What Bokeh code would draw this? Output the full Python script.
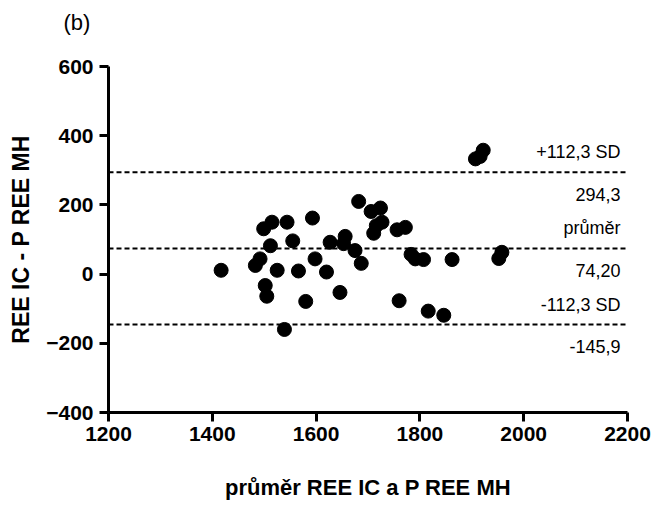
from bokeh.plotting import figure
from bokeh.models import Range1d, FixedTicker, ColumnDataSource
from bokeh.embed import file_html
from bokeh.resources import INLINE
from bokeh.core.properties import value

# Bland-Altman data: mean of the two methods (x) and their difference (y)
mean_x = [1417, 1483, 1492, 1502, 1505, 1499, 1515, 1512, 1525, 1544, 1555,
          1539, 1566, 1580, 1593, 1598, 1620, 1627, 1646, 1653, 1656, 1675,
          1682, 1687, 1706, 1724, 1711, 1716, 1727, 1756, 1772, 1760, 1783,
          1791, 1807, 1816, 1846, 1862, 1907, 1916, 1922, 1952, 1958]
diff_y = [11, 25, 44, -33, -64, 131, 150, 82, 11, 150, 96,
          -160, 9, -79, 162, 44, 6, 92, -53, 88, 109, 68,
          210, 31, 181, 191, 118, 140, 150, 128, 135, -77, 57,
          44, 42, -107, -119, 42, 333, 340, 358, 45, 63]

x_ticks = [1200, 1400, 1600, 1800, 2000, 2200]
y_ticks = [-400, -200, 0, 200, 400, 600]

levels = [294.3, 74.20, -145.9]
labels_above = ["+112,3 SD", "průměr", "-112,3 SD"]
labels_below = ["294,3", "74,20", "-145,9"]
panel_tag = "(b)"

FONT = "Liberation Sans"

p = figure(width=655, height=505, output_backend="svg", toolbar_location=None,
           x_range=Range1d(x_ticks[0], x_ticks[-1]),
           y_range=Range1d(y_ticks[0], y_ticks[-1]),
           min_border_left=108, min_border_right=28,
           min_border_top=66, min_border_bottom=93,
           title=panel_tag + "\n ")

p.background_fill_color = "white"
p.border_fill_color = "white"
p.outline_line_color = None
p.xgrid.visible = False
p.ygrid.visible = False

p.title.text_font = FONT
p.title.text_font_style = "normal"
p.title.text_font_size = "22px"
p.title.text_line_height = 1.1
p.title.text_color = "black"
p.title.offset = -45
p.title.standoff = 8

p.xaxis.ticker = FixedTicker(ticks=x_ticks)
p.yaxis.ticker = FixedTicker(ticks=y_ticks)
for ax in (p.xaxis[0], p.yaxis[0]):
    ax.axis_line_width = 3
    ax.axis_line_color = "black"
    ax.major_tick_line_width = 3
    ax.major_tick_line_color = "black"
    ax.major_tick_out = 9
    ax.major_tick_in = 0
    ax.minor_tick_line_color = None
    ax.major_label_text_font = FONT
    ax.major_label_text_font_style = "bold"
    ax.major_label_text_font_size = "21px"
    ax.major_label_text_color = "black"
    ax.axis_label_text_font = FONT
    ax.axis_label_text_font_style = "bold"
    ax.axis_label_text_color = "black"

p.xaxis.axis_label = "průměr REE IC a P REE MH"
p.xaxis.axis_label_text_font_size = "22px"
p.xaxis.axis_label_standoff = 31
p.xaxis.major_label_standoff = 5

p.yaxis.axis_label = "REE IC - P REE MH"
p.yaxis.axis_label_text_font_size = "23px"
p.yaxis.axis_label_standoff = 9
p.yaxis.major_label_standoff = 6

# limits of agreement and mean difference
seg = ColumnDataSource(dict(x0=[x_ticks[0]] * len(levels),
                            x1=[x_ticks[-1]] * len(levels),
                            y=levels))
p.segment(x0="x0", y0="y", x1="x1", y1="y", source=seg,
          line_color="black", line_width=2, line_dash="5 3")

p.scatter(mean_x, diff_y, size=14, color="black", line_color="black")

txt_above = ColumnDataSource(dict(x=[x_ticks[-1]] * 3, y=levels, t=labels_above))
txt_below = ColumnDataSource(dict(x=[x_ticks[-1]] * 3, y=levels, t=labels_below))
p.text(x="x", y="y", text="t", source=txt_above, text_align="right",
       text_baseline="middle", x_offset=-7, y_offset=-20,
       text_font=value(FONT), text_font_size="18px", text_color="black")
p.text(x="x", y="y", text="t", source=txt_below, text_align="right",
       text_baseline="middle", x_offset=-7, y_offset=22,
       text_font=value(FONT), text_font_size="18px", text_color="black")

open("out.html", "w").write(file_html(p, INLINE))
